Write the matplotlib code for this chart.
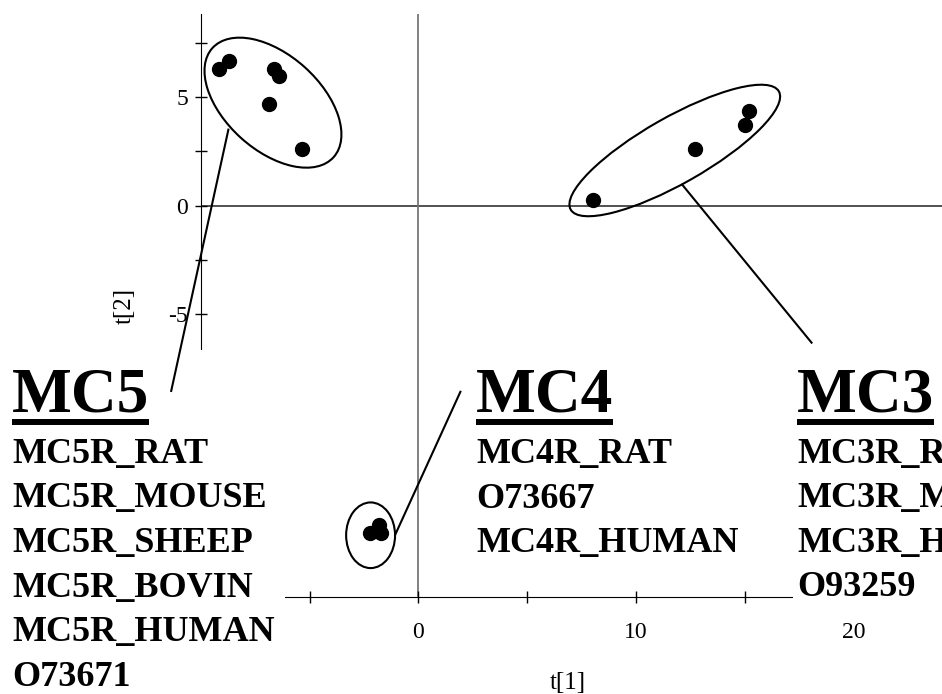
import matplotlib.pyplot as plt
from matplotlib.patches import Ellipse, Rectangle

plt.rcParams['font.family'] = 'Liberation Serif'
plt.rcParams['axes.unicode_minus'] = False

# PCA scores t[1], t[2] for each melanocortin receptor subtype
mc5_t1 = [-9.15, -8.69, -6.62, -6.43, -6.85, -5.35]
mc5_t2 = [6.30, 6.64, 6.30, 5.97, 4.68, 2.62]
mc4_t1 = [-2.22, -1.83, -1.72]
mc4_t2 = [-15.06, -14.68, -15.06]
mc3_t1 = [8.02, 12.70, 15.00, 15.19]
mc3_t2 = [0.24, 2.62, 3.69, 4.37]

mc5_names = ['MC5R_RAT', 'MC5R_MOUSE', 'MC5R_SHEEP', 'MC5R_BOVIN', 'MC5R_HUMAN', 'O73671']
mc4_names = ['MC4R_RAT', 'O73667', 'MC4R_HUMAN']
mc3_names = ['MC3R_RAT', 'MC3R_MOUSE', 'MC3R_HUMAN', 'O93259']

# tick positions left uncovered by the label blocks
x_major = [0, 10, 20]
x_minor = [-5, 5, 15]
y_major = [-5, 0, 5]
y_minor = [-2.5, 2.5, 7.5]

# group outlines: centre (t1, t2), width, height, angle
mc5_ring = ((-6.69, 4.74), 7.50, 4.38, -42)
mc4_ring = ((-2.20, -15.16), 2.25, 3.02, 0)
mc3_ring = ((11.79, 2.54), 11.01, 3.05, 29.6)

# leader lines from each outline to its label block
mc5_lead = ([-8.74, -11.37], [3.50, -8.52])
mc4_lead = ([-1.07, 1.93], [-15.14, -8.56])
mc3_lead = ([12.13, 18.08], [0.97, -6.30])

W, H = 942, 694
fig = plt.figure(figsize=(W / 100, H / 100), dpi=100)


def fx(px):
    return px / W


def fy(py):
    return 1 - py / H


# axes placed so that one unit is the same length on both axes
ax = fig.add_axes([fx(201), fy(597), 761 / W, 582.6 / H])
ax.set_xlim(-10, 25)
ax.set_ylim(-18, 8.8)

ax.spines['top'].set_visible(False)
ax.spines['right'].set_visible(False)
ax.set_xticks(x_major)
ax.set_xticks(x_minor, minor=True)
ax.set_yticks(y_major)
ax.set_yticks(y_minor, minor=True)
ax.tick_params(which='both', direction='inout', length=8.6, width=1, labelsize=17)
ax.tick_params(axis='x', pad=14)
ax.tick_params(axis='y', pad=5)

ax.axhline(0, color='#222222', lw=1.1, zorder=1)
ax.axvline(0, color='#777777', lw=1.3, zorder=1)

for t1, t2 in [(mc5_t1, mc5_t2), (mc4_t1, mc4_t2), (mc3_t1, mc3_t2)]:
    ax.plot(t1, t2, 'o', color='black', ms=10, zorder=2)

for (c, w, h, a) in [mc5_ring, mc4_ring, mc3_ring]:
    ax.add_patch(Ellipse(c, w, h, angle=a, fill=False, ec='black', lw=1.5, zorder=2))

# white backing behind the label blocks hides the axis lines under them
for x0, y0, x1, y1 in [(0, 350, 285, 694), (793, 350, 942, 612)]:
    ax.add_patch(Rectangle((fx(x0), fy(y1)), fx(x1) - fx(x0), fy(y0) - fy(y1),
                           transform=fig.transFigure, facecolor='white',
                           edgecolor='none', zorder=3, clip_on=False))

for xs, ys in [mc5_lead, mc4_lead, mc3_lead]:
    ax.plot(xs, ys, color='black', lw=1.5, zorder=4, clip_on=False)

ax.set_xlabel('t[1]', fontsize=18)
ax.xaxis.label.set_va('center')
ax.xaxis.set_label_coords(0.482, -0.1476)
ax.set_ylabel('t[2]', fontsize=18)
ax.yaxis.label.set_va('center')
ax.yaxis.set_label_coords(-0.1000, 0.4995)

# label blocks: underlined group name followed by member sequences
renderer = fig.canvas.get_renderer()
for left, title, names in [(12, 'MC5', mc5_names), (476, 'MC4', mc4_names),
                           (797, 'MC3', mc3_names)]:
    t = fig.text(fx(left), fy(412), title, fontsize=45.6, fontweight='bold',
                 va='baseline', ha='left')
    bb = t.get_window_extent(renderer)
    fig.add_artist(plt.Line2D([fx(left), fx(left) + bb.width / W], [fy(422), fy(422)],
                              color='black', lw=4.3, solid_capstyle='butt'))
    for i, name in enumerate(names):
        fig.text(fx(left), fy(463 + 44.5 * i), name, fontsize=26, fontweight='bold',
                 va='baseline', ha='left')

fig.savefig('out.png', dpi=100)
